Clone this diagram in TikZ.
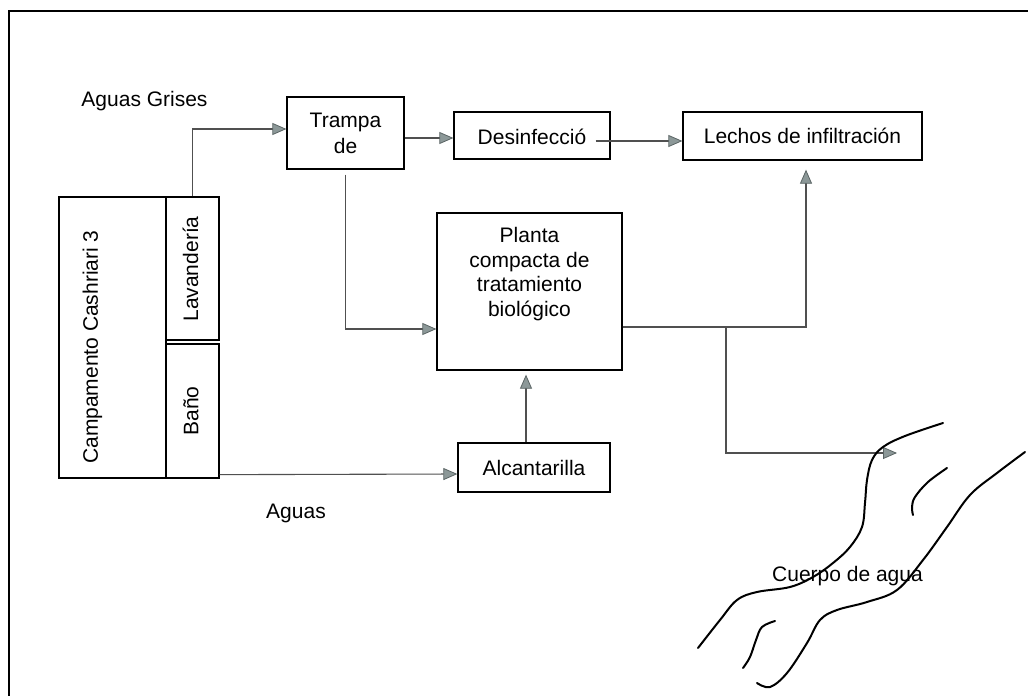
\documentclass[tikz,border=0pt]{standalone}
\usepackage{fontspec}
\setmainfont{Liberation Sans}
\usetikzlibrary{arrows.meta}
\definecolor{linegray}{RGB}{80,80,80}
\definecolor{tipfill}{RGB}{140,152,152}
\definecolor{tipdraw}{RGB}{90,100,100}
\newcommand\myfs{\fontsize{21}{25}\selectfont}
\begin{document}
\begin{tikzpicture}[x=1pt,y=-1pt,
  box/.style={draw=black, line width=1.3pt, inner sep=0pt, font=\myfs},
  lbl/.style={inner sep=0pt, font=\myfs, text=black},
  conn/.style={draw=linegray, line width=1.1pt,
    -{Triangle[length=14pt,width=12pt,fill=tipfill,color=tipdraw,line width=0.8pt]}},
  river/.style={line width=2pt, line cap=round, line join=round}]
\useasboundingbox (0,0) rectangle (1028,696);
\fill[white] (0,0) rectangle (1028,696);
% frame
\draw[line width=2.5pt] (9,696) -- (9,11) -- (1028,11);

% camp
\node[box, minimum width=107pt, minimum height=281pt] (camp) at (112.5,337.5) {};
\node[lbl, rotate=90] (campt) at (92.5,347) {Campamento Cashriari 3};
\node[box, minimum width=53pt, minimum height=143pt] (lav) at (192.5,268.5) {};
\node[lbl, rotate=90] (lavt) at (190.5,269) {Lavandería};
\node[box, minimum width=53pt, minimum height=134pt] (bano) at (192.5,411) {};
\node[lbl, rotate=90] (banot) at (191,411) {Baño};

% process boxes
\node[box, minimum width=117pt, minimum height=72pt, align=center] (trampa) at (345.5,133) {Trampa\\[1pt]de};
\node[box, minimum width=156pt, minimum height=47pt] (desinf) at (532,135.5) {};
\node[lbl] (desinft) at (532,137) {Desinfecció};
\node[box, minimum width=239pt, minimum height=48pt] (lechos) at (802.5,136) {Lechos de infiltración};
\node[box, minimum width=185pt, minimum height=157pt] (planta) at (529.5,291.5) {};
\node[lbl, align=center, font=\fontsize{21}{24.5}\selectfont] (plantat) at (529.5,274) {Planta\\compacta de\\tratamiento\\biológico};
\node[box, minimum width=152pt, minimum height=49pt] (alc) at (534,467.5) {Alcantarilla};

% labels
\node[lbl] (ag) at (144.5,101.5) {Aguas Grises};
\node[lbl] (an) at (296,513) {Aguas};

% connectors
\draw[conn] (lav.north) |- ([yshift=4pt]trampa.west);
\draw[conn] ([yshift=-5pt]trampa.east) -- ([yshift=-2.5pt]desinf.west);
\draw[conn] ([xshift=-15pt,yshift=-5.5pt]desinf.east) -- ([yshift=-5pt]lechos.west);
\draw[conn] ([yshift=-5pt]trampa.south) |- ([yshift=-37.5pt]planta.west);
\draw[conn] ([yshift=4pt]bano.south east) -- ([yshift=-6.5pt]alc.west);
\draw[conn, shorten >=4pt] ([xshift=-8pt]alc.north) -- ([xshift=-3.5pt]planta.south);
\draw[conn, shorten >=9pt] ([yshift=-35.5pt]planta.east) -| ([xshift=3.5pt]lechos.south);
\coordinate (branch) at (726,327);
\coordinate (riverin) at (897,453);
\draw[conn] (branch) |- (riverin);

% river
\draw[river] plot[smooth, tension=0.6] coordinates {(943,423) (905,436) (883,447) (872,460) (867,480) (865,503) (862,527) (850,547) (833,563) (813,577) (790,587) (757,592) (737,600) (720,620) (698,648)};
\draw[river] plot[smooth, tension=0.6] coordinates {(1025,452) (997,473) (970,495) (947,527) (923,560) (897,590) (867,602) (837,610) (820,620) (807,643) (787,673) (770,687) (757,683)};
\draw[river] plot[smooth, tension=0.6] coordinates {(947,468) (928,482) (915,497) (912,507) (913,515)};
\draw[river] plot[smooth, tension=0.6] coordinates {(775,621) (762,627) (756,640) (750,657) (743,668)};
\node[lbl] (cuerpo) at (847.5,576) {Cuerpo de agua};
\end{tikzpicture}
\end{document}
